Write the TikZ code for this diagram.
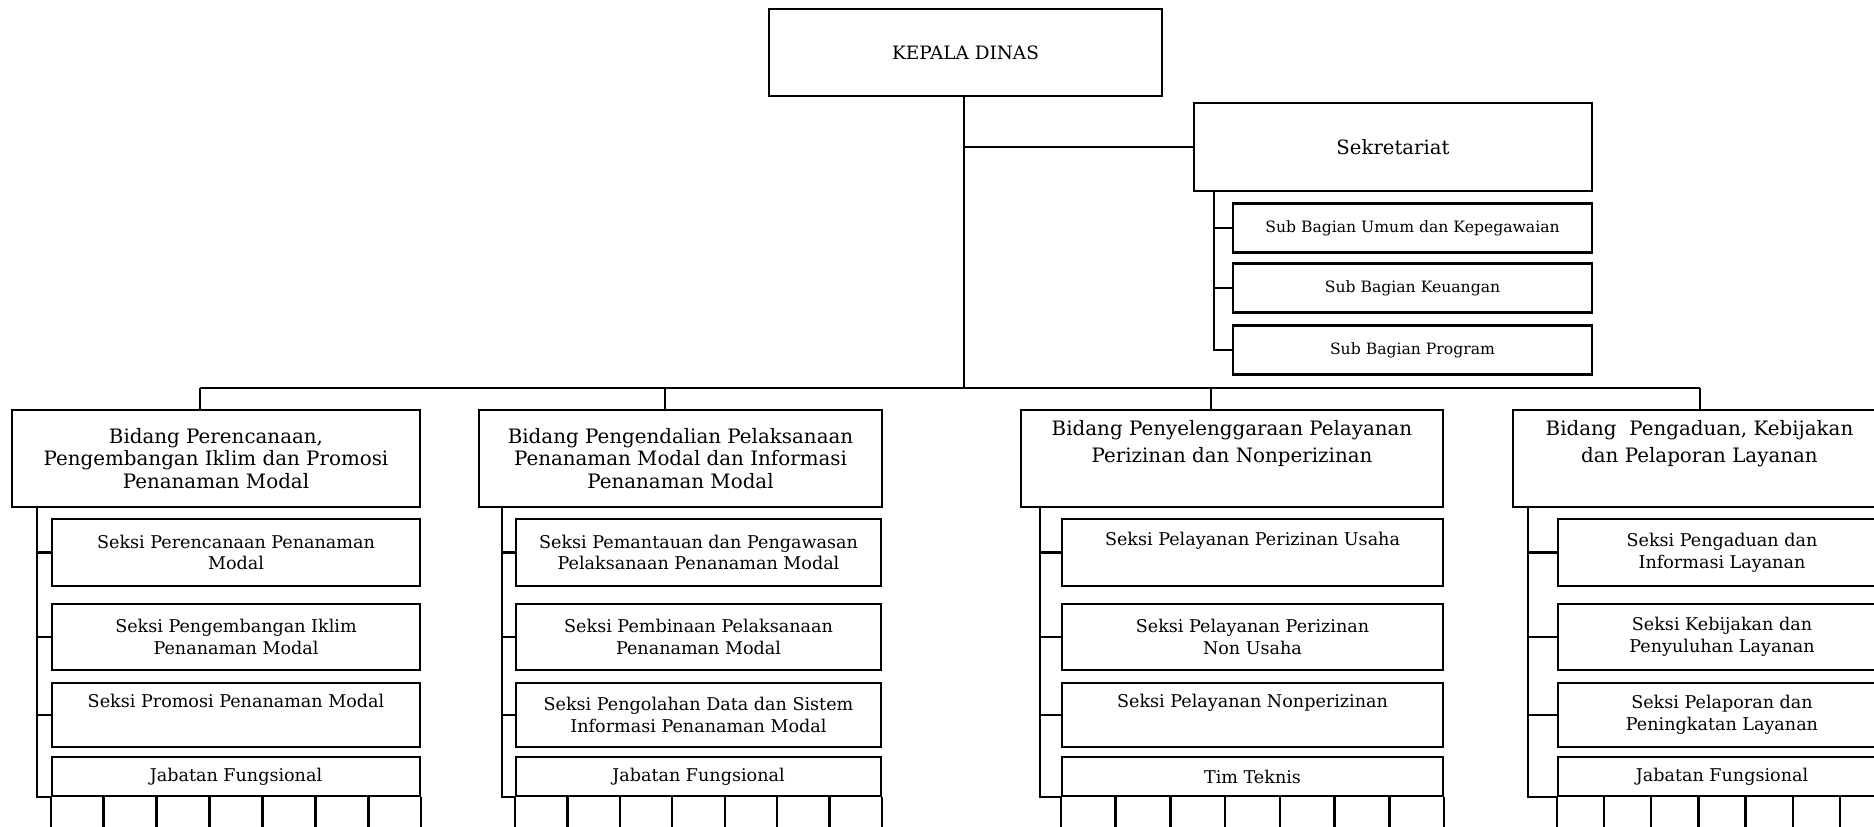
\documentclass[tikz,border=0pt]{standalone}
\usepackage{fontspec}
\setmainfont{DejaVu Serif}
\usetikzlibrary{calc}

\tikzset{
	kotak/.style={draw, line width=1.4pt, rectangle, inner sep=0pt, align=center},
	bidang/.style={kotak, minimum height=1.94cm, font=\fontsize{11.3}{12.8}\selectfont},
	seksi/.style={kotak, font=\fontsize{10}{12.4}\selectfont},
	subbag/.style={kotak, minimum width=7.18cm, minimum height=0.98cm, font=\fontsize{8.9}{10}\selectfont},
	garis/.style={line width=1.4pt},
}

% deretan sel kosong di bawah kotak jabatan
\newcommand{\sel}[1]{%
	\foreach \i in {0,...,7}
		\draw[garis] ($(#1.south west)!\i/7!(#1.south east)$) -- ++(0,60);
}

\begin{document}
\begin{tikzpicture}[x=0.02cm, y=-0.02cm]
	\useasboundingbox (0,0) rectangle (1874,826);
	% pimpinan dan sekretariat
	\node[kotak, minimum width=7.86cm, minimum height=1.74cm, font=\fontsize{10.5}{12}\selectfont] (kepala) at (965.5,52.5) {KEPALA DINAS};
	\node[kotak, minimum width=7.97cm, minimum height=1.76cm, font=\fontsize{11.2}{13}\selectfont] (sekretariat) at (1393,147) {Sekretariat};
	\node[subbag] (umum) at (1412.5,228) {Sub Bagian Umum dan Kepegawaian};
	\node[subbag] (keuangan) at (1412.5,288) {Sub Bagian Keuangan};
	\node[subbag] (program) at (1412.5,350) {Sub Bagian Program};

	% bidang
	\node[bidang, minimum width=8.16cm] (b1) at (216,458.5) {Bidang Perencanaan,\\Pengembangan Iklim dan Promosi\\Penanaman Modal};
	\node[bidang, minimum width=8.06cm] (b2) at (680.5,458.5) {Bidang Pengendalian Pelaksanaan\\Penanaman Modal dan Informasi\\Penanaman Modal};
	\node[bidang, minimum width=8.44cm, font=\fontsize{11.3}{15}\selectfont] (b3) at (1232,458.5) {Bidang Penyelenggaraan Pelayanan\\Perizinan dan Nonperizinan\\\strut};
	\node[bidang, minimum width=7.46cm, font=\fontsize{11.3}{15}\selectfont] (b4) at (1699.5,458.5) {Bidang \ Pengaduan, Kebijakan\\dan Pelaporan Layanan\\\strut};

	% seksi bidang 1
	\node[seksi, minimum width=7.36cm, minimum height=1.34cm] (s11) at (236,552.5) {Seksi Perencanaan Penanaman\\Modal};
	\node[seksi, minimum width=7.36cm, minimum height=1.32cm] (s12) at (236,637) {Seksi Pengembangan Iklim\\Penanaman Modal};
	\node[seksi, minimum width=7.36cm, minimum height=1.28cm] (s13) at (236,715) {Seksi Promosi Penanaman Modal\\\strut};
	\node[seksi, minimum width=7.36cm, minimum height=0.78cm] (j1) at (236,776.5) {Jabatan Fungsional};
	% seksi bidang 2
	\node[seksi, minimum width=7.30cm, minimum height=1.34cm] (s21) at (698.5,552.5) {Seksi Pemantauan dan Pengawasan\\Pelaksanaan Penanaman Modal};
	\node[seksi, minimum width=7.30cm, minimum height=1.32cm] (s22) at (698.5,637) {Seksi Pembinaan Pelaksanaan\\Penanaman Modal};
	\node[seksi, minimum width=7.30cm, minimum height=1.28cm] (s23) at (698.5,715) {Seksi Pengolahan Data dan Sistem\\Informasi Penanaman Modal};
	\node[seksi, minimum width=7.30cm, minimum height=0.78cm] (j2) at (698.5,776.5) {Jabatan Fungsional};
	% seksi bidang 3
	\node[seksi, minimum width=7.62cm, minimum height=1.34cm] (s31) at (1252.5,552.5) {Seksi Pelayanan Perizinan Usaha\\\strut};
	\node[seksi, minimum width=7.62cm, minimum height=1.32cm] (s32) at (1252.5,637) {Seksi Pelayanan Perizinan\\Non Usaha};
	\node[seksi, minimum width=7.62cm, minimum height=1.28cm] (s33) at (1252.5,715) {Seksi Pelayanan Nonperizinan\\\strut};
	\node[seksi, minimum width=7.62cm, minimum height=0.78cm] (j3) at (1252.5,776.5) {Tim Teknis};
	% seksi bidang 4
	\node[seksi, minimum width=6.56cm, minimum height=1.34cm] (s41) at (1722,552.5) {Seksi Pengaduan dan\\Informasi Layanan};
	\node[seksi, minimum width=6.56cm, minimum height=1.32cm] (s42) at (1722,637) {Seksi Kebijakan dan\\Penyuluhan Layanan};
	\node[seksi, minimum width=6.56cm, minimum height=1.28cm] (s43) at (1722,715) {Seksi Pelaporan dan\\Peningkatan Layanan};
	\node[seksi, minimum width=6.56cm, minimum height=0.78cm] (j4) at (1722,776.5) {Jabatan Fungsional};

	% garis komando
	\coordinate (bus) at (964,388);
	\coordinate (tsek) at (1214,191);
	\draw[garis] (bus |- kepala.south) -- (bus);
	\draw[garis] (bus |- sekretariat.west) -- (sekretariat.west);
	\draw[garis] (tsek) |- (umum.west);
	\draw[garis] (tsek) |- (keuangan.west);
	\draw[garis] (tsek) |- (program.west);

	\coordinate (d1) at (200,388);
	\coordinate (d2) at (665,388);
	\coordinate (d3) at (1211,388);
	\coordinate (d4) at (1700,388);
	\draw[garis] (d1) -- (d4);
	\coordinate (t1) at (37,507);
	\coordinate (t2) at (502,507);
	\coordinate (t3) at (1040,507);
	\coordinate (t4) at (1528,507);
	\foreach \k in {1,...,4}{
		\draw[garis] (d\k) -- (d\k |- b\k.north);
		\draw[garis] (t\k) |- (j\k.south west);
		\foreach \s in {1,2,3}
			\draw[garis] (t\k |- s\k\s.west) -- (s\k\s.west);
		\sel{j\k}
	}
\end{tikzpicture}
\end{document}
